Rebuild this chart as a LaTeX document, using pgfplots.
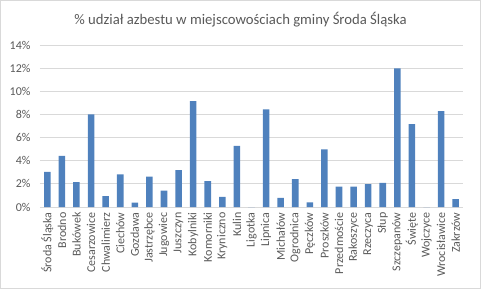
\documentclass[border=0pt]{standalone}
\usepackage{fontspec}
\setmainfont{Carlito}
\usepackage{pgfplots}
\pgfplotsset{compat=1.18}
\definecolor{barblue}{HTML}{4F81BD}
\definecolor{txt}{HTML}{595959}
\definecolor{gridc}{HTML}{D9D9D9}
\begin{document}
\begin{tikzpicture}
\useasboundingbox (-40bp,-82bp) rectangle (441bp,207bp);
\draw[gridc, line width=0.8bp] (-39.6bp,-81.6bp) rectangle (440.6bp,206.6bp);
\node[font=\fontsize{14.7bp}{17bp}\selectfont, text=txt] at (200.5bp,187bp) {\% udział azbestu w miejscowościach gminy Środa Śląska};
\begin{axis}[
  at={(0,0)}, anchor=south west, scale only axis,
  width=423bp, height=162bp,
  ybar, bar width=0.45,
  xmin=-0.5, xmax=28.5, ymin=0, ymax=14,
  ytick={0,2,...,14},
  yticklabel={\pgfmathprintnumber{\tick}\%},
  xtick=data,
  xticklabels={Środa Śląska,Brodno,Bukówek,Cesarzowice,Chwalimierz,Ciechów,Gozdawa,Jastrzębce,Jugowiec,Juszczyn,Kobylniki,Komorniki,Kryniczno,Kulin,Ligotka,Lipnica,Michałów,Ogrodnica,Pęczków,Proszków,Przedmoście,Rakoszyce,Rzeczyca,Słup,Szczepanów,Święte,Wojczyce,Wrocisławice,Zakrzów},
  x tick label style={rotate=90, anchor=east, yshift=0bp, xshift=-2bp},
  y tick label style={xshift=-6bp},
  major tick length=0pt,
  axis line style={draw=none},
  ymajorgrids, grid style={gridc, line width=0.8bp},
  tick label style={font=\fontsize{12bp}{14bp}\selectfont, text=txt},
  /pgf/number format/assume math mode=true,
]
\addplot[fill=barblue, draw=none] coordinates {
(0,3.03) (1,4.42) (2,2.14) (3,8.0) (4,0.93) (5,2.83) (6,0.38) (7,2.63) (8,1.42) (9,3.18)
(10,9.15) (11,2.23) (12,0.87) (13,5.28) (14,0) (15,8.43) (16,0.78) (17,2.4) (18,0.41) (19,4.97)
(20,1.77) (21,1.77) (22,1.97) (23,2.08) (24,11.98) (25,7.16) (26,0) (27,8.29) (28,0.69)
};
\end{axis}
\end{tikzpicture}
\end{document}
